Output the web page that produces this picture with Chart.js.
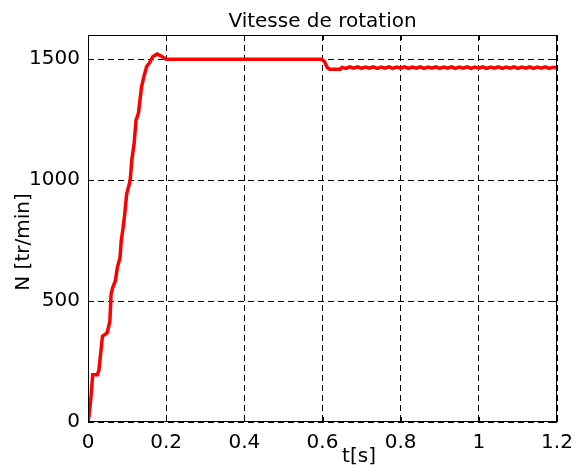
<!DOCTYPE html>
<html>
<head>
<meta charset="utf-8">
<script src="https://cdn.jsdelivr.net/npm/chart.js@4/dist/chart.umd.min.js"></script>
<style>
  html, body { margin: 0; padding: 0; background: #fff; }
  #wrap { width: 583px; height: 472px; }
</style>
</head>
<body>
<div id="wrap"><canvas id="speed-chart"></canvas></div>
<script>
// Données
const titleText = 'Vitesse de rotation';
const xLabel = 't[s]';
const yLabel = 'N [tr/min]';
const xTicks = [0, 0.2, 0.4, 0.6, 0.8, 1, 1.2];
const xTickLabels = ['0', '0.2', '0.4', '0.6', '0.8', '1', '1.2'];
const yTicks = [0, 500, 1000, 1500];
const yTickLabels = ['0', '500', '1000', '1500'];

// Temps (s)
const tValues = [
  0, 0.003, 0.008, 0.012, 0.024, 0.028, 0.037, 0.049, 0.056, 0.059, 0.063, 0.070,
  0.075, 0.082, 0.085, 0.090, 0.094, 0.099, 0.108, 0.112, 0.118, 0.123, 0.129,
  0.134, 0.137, 0.143, 0.150, 0.157, 0.166, 0.177, 0.188, 0.200, 0.400, 0.598,
  0.605, 0.612, 0.618, 0.645, 0.650,
  0.66, 0.67, 0.68, 0.69, 0.70, 0.71, 0.72, 0.73, 0.74, 0.75, 0.76, 0.77, 0.78, 0.79,
  0.80, 0.81, 0.82, 0.83, 0.84, 0.85, 0.86, 0.87, 0.88, 0.89, 0.90, 0.91, 0.92, 0.93,
  0.94, 0.95, 0.96, 0.97, 0.98, 0.99, 1.00, 1.01, 1.02, 1.03, 1.04, 1.05, 1.06, 1.07,
  1.08, 1.09, 1.10, 1.11, 1.12, 1.13, 1.14, 1.15, 1.16, 1.17, 1.18, 1.19, 1.20
];
// Vitesse (tr/min)
const nValues = [
  0, 30, 110, 195, 195, 215, 355, 368, 417, 528, 555, 583,
  638, 680, 749, 805, 860, 943, 999, 1082, 1151, 1248, 1276,
  1345, 1386, 1428, 1470, 1484, 1511, 1521, 1512, 1500, 1500, 1500,
  1490, 1466, 1458, 1458, 1466,
  1462, 1468, 1463, 1468, 1462, 1467, 1463, 1468, 1462, 1467, 1463, 1468, 1462, 1467,
  1463, 1468, 1462, 1467, 1463, 1468, 1462, 1467, 1463, 1468, 1462, 1467, 1463, 1468,
  1462, 1467, 1463, 1468, 1462, 1467, 1463, 1468, 1462, 1467, 1463, 1468, 1462, 1467,
  1463, 1468, 1462, 1467, 1463, 1468, 1462, 1467, 1463, 1468, 1462, 1467, 1465
];

const FONT = 'DejaVu Sans, Arial, sans-serif';
const FONT_SIZE = 20;

// Cadre, petites graduations internes et libellés (style MATLAB)
const matlabFrame = {
  id: 'matlabFrame',
  afterDraw(chart) {
    const { ctx, chartArea: a, scales } = chart;
    ctx.save();
    ctx.strokeStyle = '#000';
    ctx.lineWidth = 1;
    ctx.setLineDash([]);
    ctx.strokeRect(a.left + 0.5, a.top + 0.5, a.right - a.left - 1, a.bottom - a.top - 1);
    ctx.beginPath();
    xTicks.forEach(v => {
      const x = Math.round(scales.x.getPixelForValue(v)) + 0.5;
      ctx.moveTo(x, a.bottom); ctx.lineTo(x, a.bottom - 5);
      ctx.moveTo(x, a.top); ctx.lineTo(x, a.top + 5);
    });
    yTicks.forEach(v => {
      const y = Math.round(scales.y.getPixelForValue(v)) + 0.5;
      ctx.moveTo(a.left, y); ctx.lineTo(a.left + 5, y);
      ctx.moveTo(a.right, y); ctx.lineTo(a.right - 5, y);
    });
    ctx.stroke();

    ctx.fillStyle = '#000';
    ctx.font = FONT_SIZE + 'px ' + FONT;
    ctx.textAlign = 'center';
    ctx.textBaseline = 'alphabetic';
    ctx.fillText(titleText, (a.left + a.right) / 2, 27);
    ctx.fillText(xLabel, 359, 462);
    ctx.translate(24, 242);
    ctx.rotate(-Math.PI / 2);
    ctx.textBaseline = 'middle';
    ctx.fillText(yLabel, 0, 0);
    ctx.restore();
  }
};

new Chart(document.getElementById('speed-chart').getContext('2d'), {
  type: 'line',
  data: {
    datasets: [{
      data: tValues.map((t, i) => ({ x: t, y: nValues[i] })),
      borderColor: '#ff0000',
      borderWidth: 3.5,
      pointRadius: 0,
      tension: 0,
      fill: false
    }]
  },
  options: {
    responsive: true,
    maintainAspectRatio: false,
    animation: false,
    layout: { padding: { top: 35, right: 26, left: 0, bottom: 0 } },
    plugins: {
      legend: { display: false },
      tooltip: { enabled: false },
      title: { display: false }
    },
    scales: {
      x: {
        type: 'linear',
        min: 0,
        max: 1.2,
        afterBuildTicks: s => { s.ticks = xTicks.map(v => ({ value: v })); },
        afterFit: s => { s.height = 50; },
        ticks: {
          color: '#000',
          font: { family: FONT, size: FONT_SIZE },
          padding: 9,
          maxRotation: 0,
          callback: (v) => xTickLabels[xTicks.indexOf(v)]
        },
        grid: {
          color: '#000',
          lineWidth: 1,
          drawTicks: false,
          tickLength: 0
        },
        border: { display: false, dash: [6, 4] }
      },
      y: {
        min: 0,
        max: 1600,
        afterBuildTicks: s => { s.ticks = yTicks.map(v => ({ value: v })); },
        afterFit: s => { s.width = 88; },
        ticks: {
          color: '#000',
          font: { family: FONT, size: FONT_SIZE },
          padding: 8,
          callback: (v) => yTickLabels[yTicks.indexOf(v)]
        },
        grid: {
          color: '#000',
          lineWidth: 1,
          drawTicks: false,
          tickLength: 0
        },
        border: { display: false, dash: [6, 4] }
      }
    }
  },
  plugins: [matlabFrame]
});
</script>
</body>
</html>
